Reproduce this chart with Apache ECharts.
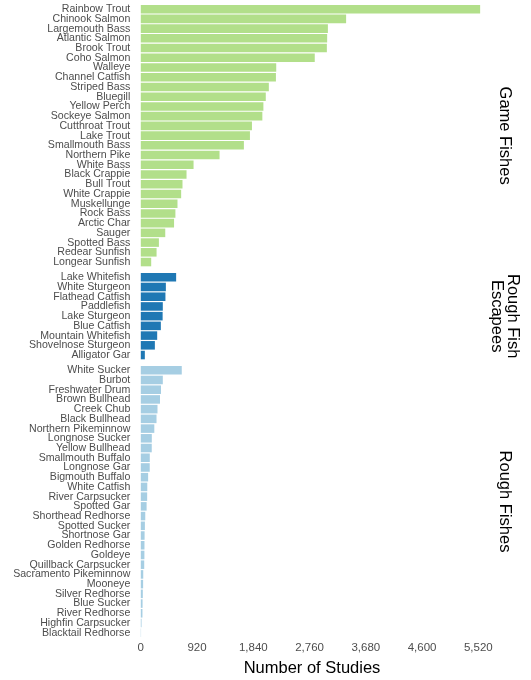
<!DOCTYPE html>
<html>
<head>
<meta charset="utf-8">
<script src="https://cdn.jsdelivr.net/npm/echarts@6/dist/echarts.min.js"></script>
<style>
  html, body { margin: 0; padding: 0; background: #fff; }
  #chart { width: 531px; height: 680px; }
</style>
</head>
<body>
<div id="chart"></div>
<script>
// data
const gameFishes = [
  'Rainbow Trout', 'Chinook Salmon', 'Largemouth Bass', 'Atlantic Salmon', 'Brook Trout',
  'Coho Salmon', 'Walleye', 'Channel Catfish', 'Striped Bass', 'Bluegill', 'Yellow Perch',
  'Sockeye Salmon', 'Cutthroat Trout', 'Lake Trout', 'Smallmouth Bass', 'Northern Pike',
  'White Bass', 'Black Crappie', 'Bull Trout', 'White Crappie', 'Muskellunge', 'Rock Bass',
  'Arctic Char', 'Sauger', 'Spotted Bass', 'Redear Sunfish', 'Longear Sunfish'
]
const gameStudies = [
  5550, 3358, 3060, 3048, 3043, 2845, 2215, 2210, 2094, 2044, 2005,
  1988, 1818, 1785, 1686, 1288, 863, 748, 682, 660, 600, 566,
  544, 400, 296, 258, 170
]

const escapeeFishes = [
  'Lake Whitefish', 'White Sturgeon', 'Flathead Catfish', 'Paddlefish', 'Lake Sturgeon',
  'Blue Catfish', 'Mountain Whitefish', 'Shovelnose Sturgeon', 'Alligator Gar'
]
const escapeeStudies = [578, 410, 403, 360, 357, 328, 268, 230, 66]

const roughFishes = [
  'White Sucker', 'Burbot', 'Freshwater Drum', 'Brown Bullhead', 'Creek Chub',
  'Black Bullhead', 'Northern Pikeminnow', 'Longnose Sucker', 'Yellow Bullhead',
  'Smallmouth Buffalo', 'Longnose Gar', 'Bigmouth Buffalo', 'White Catfish',
  'River Carpsucker', 'Spotted Gar', 'Shorthead Redhorse', 'Spotted Sucker',
  'Shortnose Gar', 'Golden Redhorse', 'Goldeye', 'Quillback Carpsucker',
  'Sacramento Pikeminnow', 'Mooneye', 'Silver Redhorse', 'Blue Sucker',
  'River Redhorse', 'Highfin Carpsucker', 'Blacktail Redhorse'
]
const roughStudies = [
  670, 360, 330, 314, 273, 257, 221, 180, 179, 147, 146, 120, 106,
  104, 95, 73, 67, 62, 60, 59, 56, 40, 38, 33, 29, 27, 12, 4
]

const panelTitles = ['Game Fishes', 'Rough Fish\nEscapees', 'Rough Fishes']
const panelColors = ['#b2df8a', '#1f78b4', '#a6cee3']
const xTicks = [0, 920, 1840, 2760, 3680, 4600, 5520]

// facet layout (px)
const gridLeft = 140.8
const gridRight = 47.8
const panels = [
  { top: 4.3, height: 262.6 },
  { top: 272.4, height: 87.5 },
  { top: 365.4, height: 272.2 }
]

const groups = [
  { names: gameFishes, values: gameStudies },
  { names: escapeeFishes, values: escapeeStudies },
  { names: roughFishes, values: roughStudies }
]

const chart = echarts.init(document.getElementById('chart'))

const font = 'Liberation Sans, Arial, sans-serif'
const interval = xTicks[1] - xTicks[0]

const option = {
  animation: false,
  backgroundColor: '#fff',
  grid: panels.map(p => ({
    left: gridLeft,
    right: gridRight,
    top: p.top,
    height: p.height,
    containLabel: false
  })),
  xAxis: panels.map((p, i) => {
    const isLast = i === panels.length - 1
    return {
      type: 'value',
      gridIndex: i,
      min: xTicks[0],
      max: 5600,
      interval: interval,
      show: isLast,
      axisLine: { show: false },
      axisTick: { show: false },
      splitLine: { show: false },
      axisLabel: {
        show: isLast,
        showMaxLabel: false,
        margin: 4,
        fontFamily: font,
        fontSize: 11.5,
        color: '#4d4d4d',
        formatter: v => xTicks.includes(v) ? v.toLocaleString('en-US') : ''
      },
      name: isLast ? 'Number of Studies' : '',
      nameLocation: 'middle',
      nameGap: 22,
      nameTextStyle: { fontFamily: font, fontSize: 16.5, color: '#000' }
    }
  }),
  yAxis: groups.map((g, i) => ({
    type: 'category',
    gridIndex: i,
    data: g.names,
    inverse: true,
    axisLine: { show: false },
    axisTick: { show: false },
    splitLine: { show: false },
    axisLabel: {
      interval: 0,
      margin: 10.5,
      fontFamily: font,
      fontSize: 10.6,
      color: '#4d4d4d'
    }
  })),
  series: groups.map((g, i) => ({
    type: 'bar',
    xAxisIndex: i,
    yAxisIndex: i,
    data: g.values,
    barWidth: '88%',
    itemStyle: { color: panelColors[i] }
  })),
  graphic: panels.map((p, i) => ({
    type: 'text',
    x: 505,
    y: p.top + p.height / 2,
    rotation: -Math.PI / 2,
    style: {
      text: panelTitles[i],
      fontFamily: font,
      fontSize: 16.5,
      lineHeight: 16,
      fill: '#000',
      align: 'center',
      verticalAlign: 'middle'
    }
  }))
}

chart.setOption(option)
</script>
</body>
</html>
